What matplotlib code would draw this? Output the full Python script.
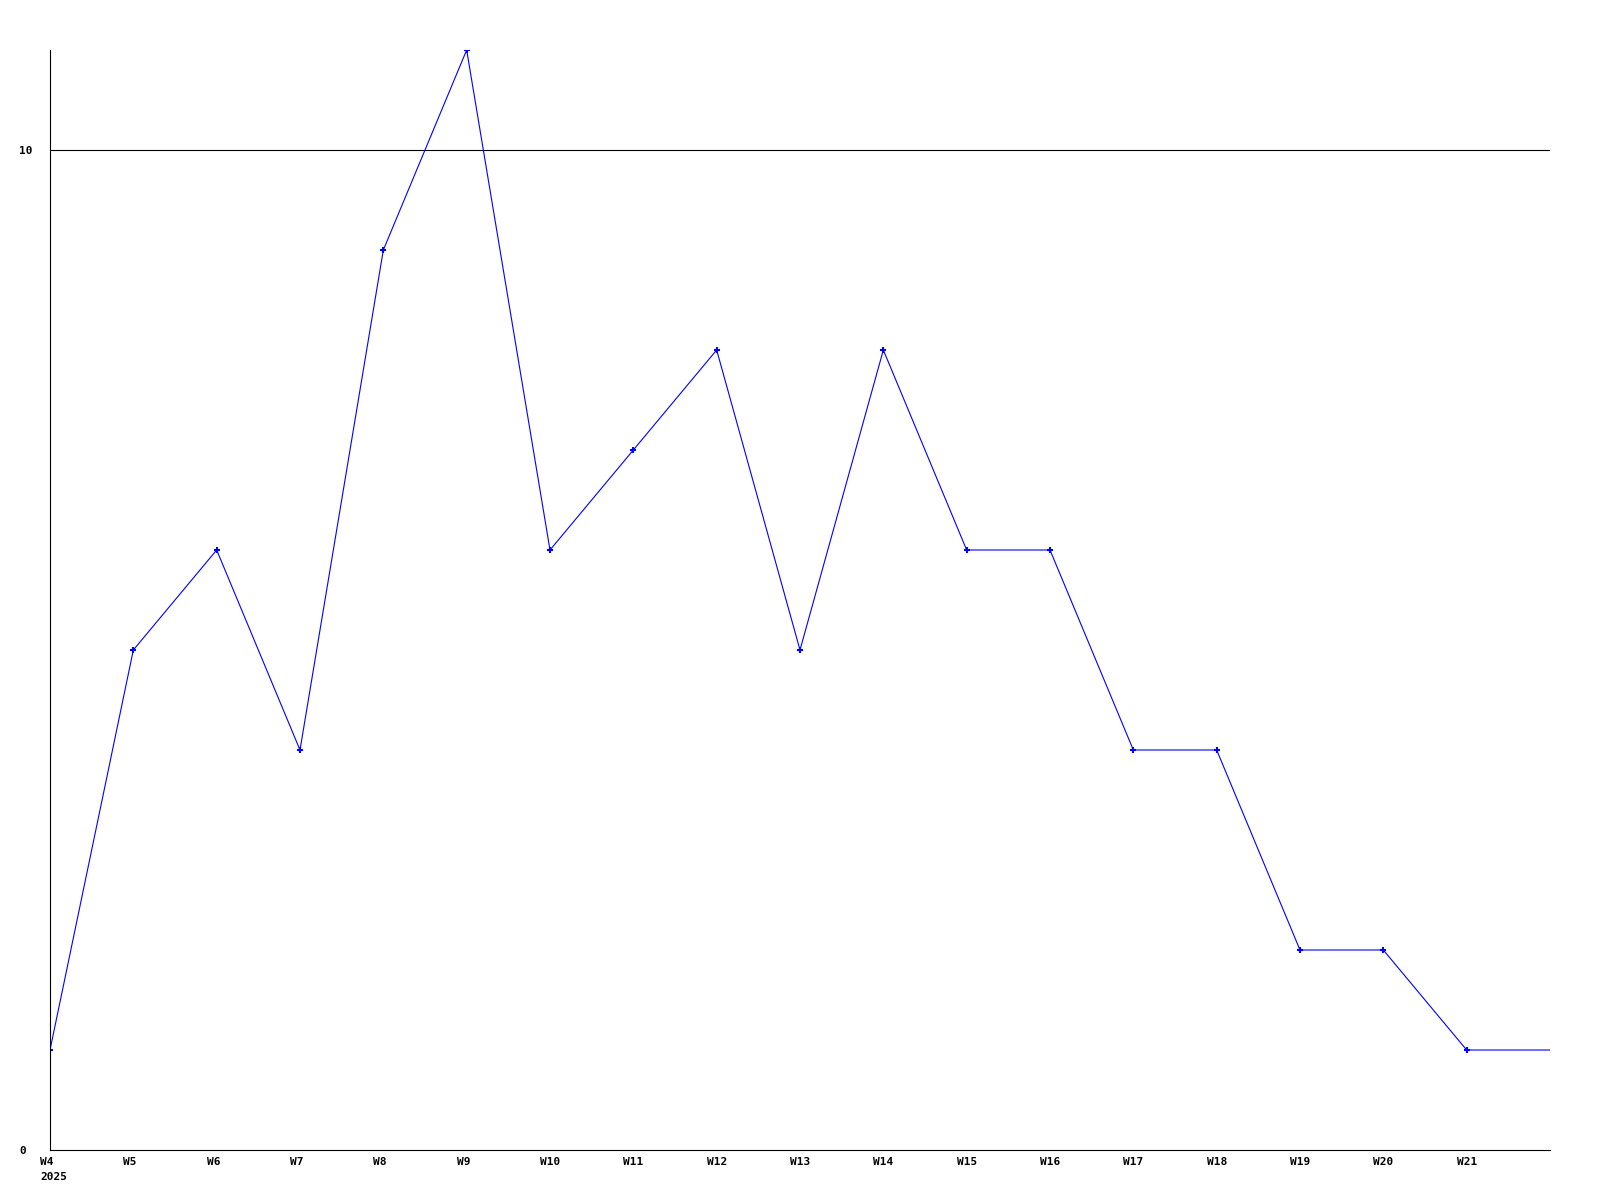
import matplotlib
matplotlib.use("Agg")
from matplotlib import pyplot as plt
from matplotlib.transforms import ScaledTranslation

# weekly counts, W4 2025 .. W22
weeks = ["W4", "W5", "W6", "W7", "W8", "W9", "W10", "W11", "W12", "W13",
         "W14", "W15", "W16", "W17", "W18", "W19", "W20", "W21", "W22"]
values = [1, 5, 6, 4, 9, 11, 6, 7, 8, 5, 8, 6, 6, 4, 4, 2, 2, 1, 1]
tick_labels = ["W4\n2025"] + weeks[1:18]
y_ticks = [0, 10]

fig = plt.figure(figsize=(16, 12), dpi=100)
ax = fig.add_axes([50/1600, 50/1200, 1500/1600, 1100/1200])

x = list(range(len(values)))
ax.plot(x, values, color="#0000ff", linewidth=0.8, marker="+", markersize=4,
        markeredgewidth=1.5, markevery=list(range(len(values) - 1)))

ax.set_xlim(0, len(values) - 1)
ax.set_ylim(0, 11)
ax.axhline(10, color="black", linewidth=0.8, zorder=0)

for s in ["top", "right"]:
    ax.spines[s].set_visible(False)
for s in ["left", "bottom"]:
    ax.spines[s].set_linewidth(0.8)

font = dict(family="DejaVu Sans Mono", weight="bold", size=8)
ax.set_xticks(range(len(tick_labels)))
ax.set_xticklabels(tick_labels, fontdict=font, linespacing=1.6, va="top", ha="left")
ax.set_yticks(y_ticks)
ax.set_yticklabels([str(v) for v in y_ticks], fontdict=font, ha="left")
ax.tick_params(axis="x", length=0, pad=5)
ax.tick_params(axis="y", length=0, pad=30)

shift = ScaledTranslation(-10/100, 0, fig.dpi_scale_trans)
for lab in ax.get_xticklabels():
    lab.set_transform(lab.get_transform() + shift)
yshift = ScaledTranslation(11/100, 0, fig.dpi_scale_trans)
for lab in ax.get_yticklabels():
    lab.set_transform(lab.get_transform() + yshift)

fig.savefig("out.png")
